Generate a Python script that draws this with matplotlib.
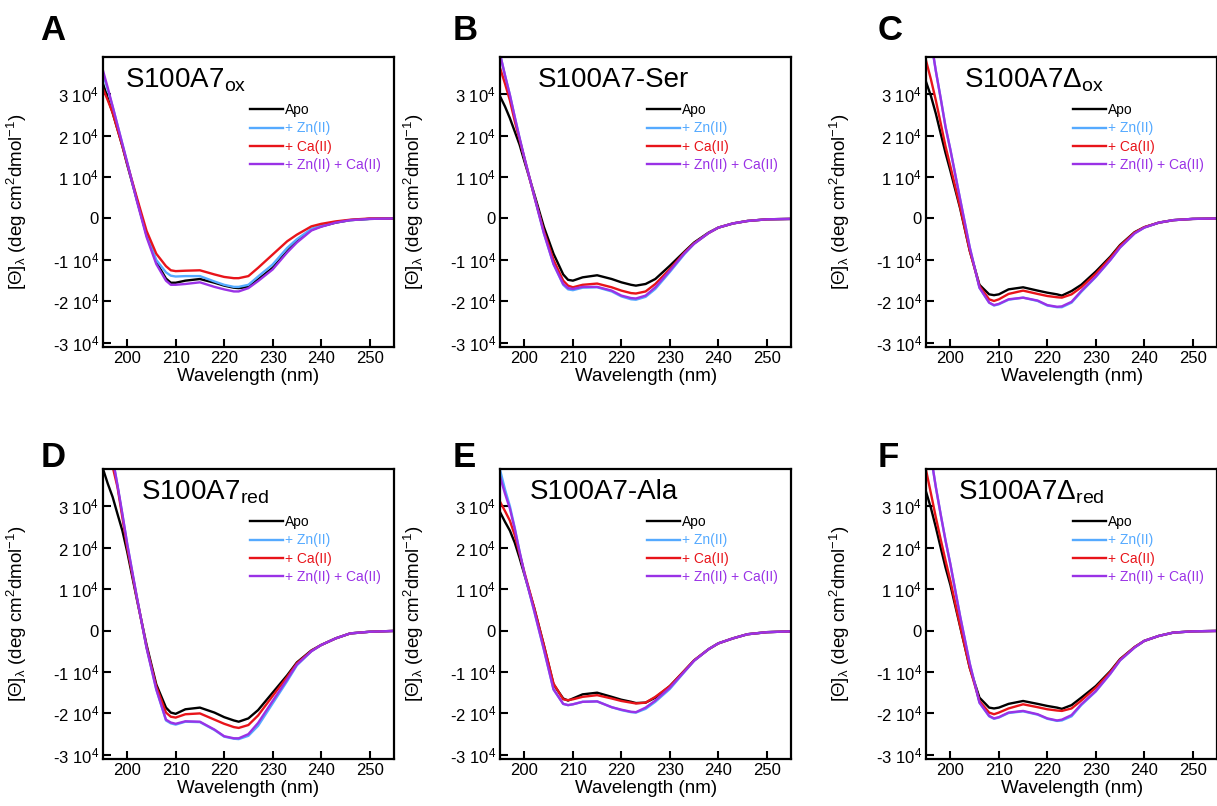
import matplotlib.pyplot as plt
import numpy as np

plt.rcParams['font.family'] = ['Liberation Sans', 'DejaVu Sans']
plt.rcParams['mathtext.fontset'] = 'custom'
plt.rcParams['mathtext.rm'] = 'Liberation Sans'
plt.rcParams['mathtext.it'] = 'Liberation Sans:italic'
plt.rcParams['mathtext.default'] = 'regular'

# wavelength grid (nm); ellipticity values in units of 1e4 deg cm2 dmol-1
wl = [195, 196, 197, 198, 199, 200, 202, 204, 206, 208, 209, 210, 212, 215,
      218, 220, 222, 223, 225, 227, 230, 233, 235, 238, 240, 243, 246, 250, 255]

# A  S100A7ox
a_apo = [3.25, 2.9, 2.55, 2.15, 1.75, 1.3, 0.45, -0.4, -1.05, -1.45, -1.55, -1.55, -1.5, -1.46,
         -1.55, -1.62, -1.67, -1.68, -1.65, -1.47, -1.19, -0.79, -0.55, -0.27, -0.19, -0.1, -0.04, -0.01, 0]
a_zn = [3.5, 3.1, 2.7, 2.25, 1.8, 1.35, 0.45, -0.4, -1.0, -1.3, -1.38, -1.4, -1.39, -1.39,
        -1.52, -1.6, -1.65, -1.65, -1.6, -1.4, -1.11, -0.71, -0.5, -0.25, -0.17, -0.09, -0.04, -0.01, 0]
a_ca = [3.13, 2.85, 2.55, 2.15, 1.75, 1.32, 0.5, -0.3, -0.85, -1.15, -1.25, -1.27, -1.26, -1.25,
        -1.35, -1.41, -1.44, -1.44, -1.39, -1.19, -0.87, -0.55, -0.39, -0.19, -0.13, -0.07, -0.03, 0, 0]
a_znca = [3.57, 3.15, 2.7, 2.25, 1.8, 1.35, 0.42, -0.45, -1.1, -1.5, -1.6, -1.6, -1.58, -1.54,
          -1.65, -1.71, -1.76, -1.76, -1.68, -1.51, -1.23, -0.82, -0.58, -0.29, -0.2, -0.1, -0.04, -0.01, 0]

# B  S100A7-Ser
b_apo = [2.94, 2.7, 2.42, 2.1, 1.78, 1.38, 0.6, -0.2, -0.85, -1.35, -1.48, -1.5, -1.42, -1.37,
         -1.46, -1.54, -1.6, -1.62, -1.58, -1.46, -1.14, -0.8, -0.58, -0.34, -0.22, -0.12, -0.06, -0.02, -0.01]
b_zn = [3.95, 3.45, 2.98, 2.45, 1.94, 1.46, 0.55, -0.35, -1.1, -1.6, -1.71, -1.73, -1.67, -1.66,
        -1.76, -1.88, -1.95, -1.96, -1.89, -1.7, -1.29, -0.86, -0.61, -0.35, -0.22, -0.12, -0.06, -0.02, -0.01]
b_ca = [3.62, 3.25, 2.85, 2.35, 1.9, 1.45, 0.55, -0.3, -1.0, -1.5, -1.62, -1.66, -1.6, -1.57,
        -1.66, -1.74, -1.8, -1.81, -1.76, -1.58, -1.22, -0.82, -0.6, -0.35, -0.22, -0.12, -0.06, -0.02, -0.01]
b_znca = [3.95, 3.45, 2.98, 2.45, 1.94, 1.46, 0.55, -0.35, -1.1, -1.58, -1.68, -1.7, -1.65, -1.65,
          -1.74, -1.86, -1.92, -1.93, -1.86, -1.66, -1.26, -0.84, -0.61, -0.35, -0.22, -0.12, -0.06, -0.02, -0.01]

# C  S100A7 delta ox
c_apo = [3.29, 2.95, 2.53, 2.05, 1.58, 1.15, 0.25, -0.78, -1.6, -1.83, -1.85, -1.83, -1.71, -1.66,
         -1.74, -1.79, -1.83, -1.86, -1.75, -1.6, -1.28, -0.92, -0.64, -0.33, -0.21, -0.1, -0.04, -0.01, 0]
c_zn = [5.0, 4.3, 3.56, 2.9, 2.21, 1.66, 0.47, -0.7, -1.67, -2.03, -2.1, -2.07, -1.96, -1.91,
        -1.99, -2.1, -2.14, -2.14, -2.03, -1.77, -1.41, -1.0, -0.7, -0.36, -0.22, -0.1, -0.04, -0.01, 0]
c_ca = [3.8, 3.35, 2.85, 2.3, 1.74, 1.26, 0.28, -0.78, -1.63, -1.95, -1.99, -1.95, -1.82, -1.74,
        -1.82, -1.87, -1.9, -1.91, -1.83, -1.66, -1.33, -0.95, -0.66, -0.34, -0.21, -0.1, -0.04, -0.01, 0]
c_znca = [5.0, 4.3, 3.56, 2.9, 2.21, 1.66, 0.47, -0.7, -1.67, -2.03, -2.09, -2.06, -1.95, -1.91,
          -1.98, -2.09, -2.13, -2.12, -2.01, -1.75, -1.4, -1.0, -0.7, -0.36, -0.22, -0.1, -0.04, -0.01, 0]

# D  S100A7red
d_apo = [3.9, 3.54, 3.22, 2.81, 2.41, 1.9, 0.75, -0.35, -1.3, -1.86, -1.98, -2.01, -1.9, -1.86,
         -1.98, -2.09, -2.17, -2.2, -2.12, -1.92, -1.5, -1.08, -0.77, -0.48, -0.35, -0.19, -0.07, -0.03, -0.01]
d_zn = [5.2, 4.6, 4.15, 3.5, 2.81, 2.09, 0.8, -0.42, -1.42, -2.17, -2.24, -2.27, -2.2, -2.21,
        -2.4, -2.56, -2.61, -2.62, -2.54, -2.3, -1.76, -1.22, -0.84, -0.5, -0.35, -0.19, -0.07, -0.03, -0.01]
d_ca = [5.0, 4.5, 3.95, 3.46, 2.73, 2.0, 0.78, -0.4, -1.35, -1.98, -2.08, -2.1, -2.02, -2.0,
        -2.15, -2.25, -2.33, -2.35, -2.28, -2.05, -1.58, -1.12, -0.79, -0.49, -0.35, -0.19, -0.07, -0.03, -0.01]
d_znca = [5.2, 4.6, 4.15, 3.5, 2.81, 2.09, 0.8, -0.42, -1.42, -2.15, -2.22, -2.25, -2.19, -2.2,
          -2.39, -2.55, -2.6, -2.6, -2.5, -2.23, -1.7, -1.18, -0.82, -0.5, -0.35, -0.19, -0.07, -0.03, -0.01]

# E  S100A7-Ala
e_apo = [2.85, 2.62, 2.41, 2.12, 1.75, 1.35, 0.55, -0.35, -1.3, -1.64, -1.69, -1.64, -1.54, -1.5,
         -1.6, -1.67, -1.72, -1.75, -1.74, -1.62, -1.34, -0.97, -0.72, -0.45, -0.31, -0.19, -0.09, -0.04, -0.02]
e_zn = [3.86, 3.4, 3.0, 2.48, 1.9, 1.38, 0.48, -0.45, -1.42, -1.77, -1.8, -1.78, -1.72, -1.71,
        -1.85, -1.92, -1.97, -1.98, -1.89, -1.72, -1.41, -1.0, -0.73, -0.45, -0.31, -0.19, -0.09, -0.04, -0.02]
e_ca = [3.1, 2.88, 2.65, 2.3, 1.85, 1.4, 0.55, -0.35, -1.28, -1.66, -1.68, -1.66, -1.6, -1.56,
        -1.64, -1.7, -1.74, -1.76, -1.74, -1.6, -1.34, -0.97, -0.72, -0.45, -0.31, -0.19, -0.09, -0.04, -0.02]
e_znca = [3.7, 3.3, 2.94, 2.45, 1.9, 1.38, 0.48, -0.45, -1.42, -1.77, -1.8, -1.78, -1.72, -1.71,
          -1.85, -1.91, -1.96, -1.97, -1.86, -1.69, -1.38, -0.99, -0.73, -0.45, -0.31, -0.19, -0.09, -0.04, -0.02]

# F  S100A7 delta red
f_apo = [3.34, 2.95, 2.49, 2.0, 1.52, 1.1, 0.1, -0.9, -1.62, -1.86, -1.88, -1.86, -1.77, -1.7,
         -1.77, -1.82, -1.86, -1.89, -1.8, -1.62, -1.34, -0.98, -0.69, -0.4, -0.25, -0.13, -0.05, -0.02, -0.01]
f_zn = [4.9, 4.2, 3.46, 2.8, 2.17, 1.6, 0.35, -0.8, -1.74, -2.07, -2.13, -2.1, -1.99, -1.95,
        -2.03, -2.13, -2.18, -2.17, -2.07, -1.8, -1.47, -1.04, -0.72, -0.41, -0.25, -0.13, -0.05, -0.02, -0.01]
f_ca = [3.86, 3.3, 2.73, 2.2, 1.69, 1.2, 0.12, -0.9, -1.7, -1.98, -2.02, -1.98, -1.88, -1.78,
        -1.85, -1.9, -1.93, -1.94, -1.88, -1.69, -1.38, -1.0, -0.7, -0.4, -0.25, -0.13, -0.05, -0.02, -0.01]
f_znca = [4.9, 4.2, 3.46, 2.8, 2.17, 1.6, 0.35, -0.8, -1.74, -2.06, -2.12, -2.09, -1.98, -1.94,
          -2.02, -2.12, -2.17, -2.15, -2.04, -1.78, -1.46, -1.04, -0.72, -0.41, -0.25, -0.13, -0.05, -0.02, -0.01]

letters = ['A', 'B', 'C', 'D', 'E', 'F']
titles = [r'S100A7$_{ox}$', 'S100A7-Ser', r'S100A7Δ$_{ox}$',
          r'S100A7$_{red}$', 'S100A7-Ala', r'S100A7Δ$_{red}$']
title_x = [0.075, 0.13, 0.13, 0.13, 0.10, 0.11]
panels = [(a_apo, a_zn, a_ca, a_znca), (b_apo, b_zn, b_ca, b_znca),
          (c_apo, c_zn, c_ca, c_znca), (d_apo, d_zn, d_ca, d_znca),
          (e_apo, e_zn, e_ca, e_znca), (f_apo, f_zn, f_ca, f_znca)]
series = ['Apo', '+ Zn(II)', '+ Ca(II)', '+ Zn(II) + Ca(II)']
colors = ['#000000', '#55AAFF', '#E8141A', '#9A32E6']

yticks = [-3e4, -2e4, -1e4, 0, 1e4, 2e4, 3e4]
ytick_labels = ['-3 10$^4$', '-2 10$^4$', '-1 10$^4$', '0', '1 10$^4$', '2 10$^4$', '3 10$^4$']
xticks = [200, 210, 220, 230, 240, 250]

fig = plt.figure(figsize=(12.17, 8.06), dpi=100)

lefts = [0.0846, 0.411, 0.761]
bottoms = [0.5695, 0.0583]
w, h = 0.239, 0.360
letter_x = [0.033, 0.372, 0.721]
letter_y = [0.95, 0.42]

for i in range(6):
    r, c = divmod(i, 3)
    ax = fig.add_axes([lefts[c], bottoms[r], w, h])
    x = np.array(wl)
    # draw order: Apo, Zn, Ca, Zn+Ca
    for vals, lab, col in zip(panels[i], series, colors):
        ax.plot(x, np.array(vals) * 1e4, color=col, lw=1.7, label=lab)

    ax.set_xlim(195, 255)
    ax.set_ylim(-31000, 39000)
    ax.set_xticks(xticks)
    ax.set_yticks(yticks)
    ax.set_yticklabels(ytick_labels)
    ax.tick_params(direction='in', length=6, width=1.5, labelsize=12, pad=3,
                   top=False, right=False)
    for s in ax.spines.values():
        s.set_linewidth(1.6)

    ax.set_xlabel('Wavelength (nm)', fontsize=13.5, labelpad=1)
    ax.set_ylabel(r'[Θ]$_{λ}$ (deg cm$^{2}$dmol$^{-1}$)', fontsize=13.5)
    ax.yaxis.set_label_coords(-0.255, 0.5)

    ax.text(title_x[i], 0.895, titles[i], transform=ax.transAxes,
            fontsize=20, va='baseline', ha='left')

    ax.legend(loc='upper left', bbox_to_anchor=(0.505, 0.84), frameon=False,
              fontsize=10, handlelength=2.4, handletextpad=0.1,
              labelspacing=0.3, borderpad=0, borderaxespad=0,
              labelcolor='linecolor')

    fig.text(letter_x[c], letter_y[r], letters[i], fontsize=25,
             fontweight='bold', va='baseline', ha='left')

fig.savefig('out.png', dpi=100)
